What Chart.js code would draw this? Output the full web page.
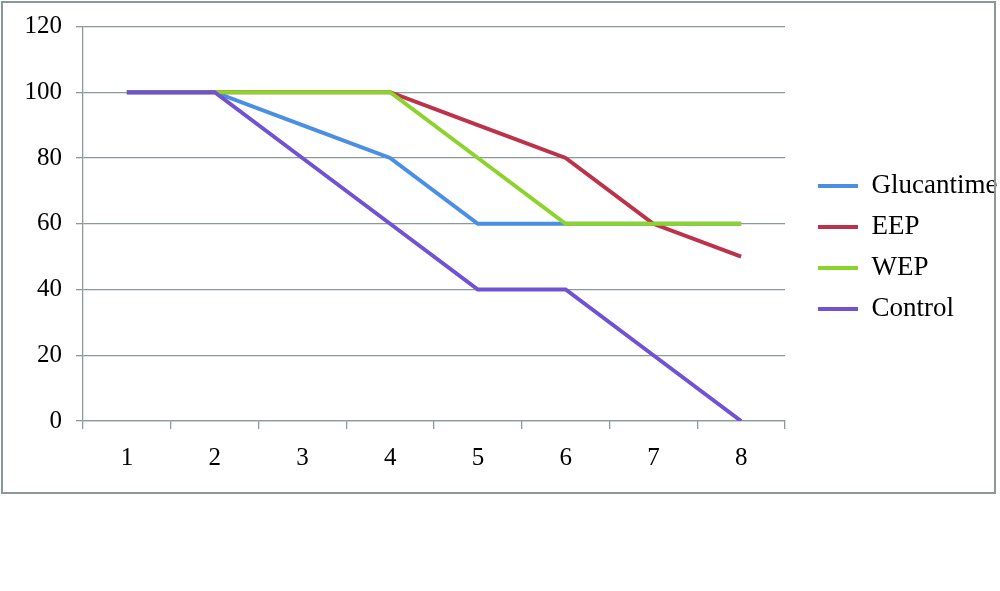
<!DOCTYPE html>
<html>
<head>
<meta charset="utf-8">
<script src="https://cdn.jsdelivr.net/npm/chart.js@4.4.0/dist/chart.umd.min.js"></script>
<style>
  html, body { margin: 0; padding: 0; background: #fff; }
  canvas { display: block; }
</style>
</head>
<body>
<canvas id="survivalChart" width="1000" height="591"></canvas>
<script>
const days = ["1", "2", "3", "4", "5", "6", "7", "8"];
const glucantime = [100, 100, 90, 80, 60, 60, 60, 60];
const eep = [100, 100, 100, 100, 90, 80, 60, 50];
const wep = [100, 100, 100, 100, 80, 60, 60, 60];
const control = [100, 100, 80, 60, 40, 40, 20, 0];

const gridColor = "#8c999b";
const fontFamily = "'Liberation Serif', 'Times New Roman', serif";

// outer frame around the whole chart, and nudge the legend into place
const framePlugin = {
  id: "frame",
  afterLayout(chart) {
    const lg = chart.legend;
    lg.left += 19; lg.right += 19;
    lg.top -= 6; lg.bottom -= 6;
  },
  afterDraw(chart) {
    const ctx = chart.ctx;
    ctx.save();
    ctx.strokeStyle = "#8a9898";
    ctx.lineWidth = 2;
    ctx.strokeRect(2, 2, 993, 491);
    ctx.restore();
  }
};

function line(label, data, color, order) {
  return {
    label: label,
    data: data,
    borderColor: color,
    backgroundColor: color,
    borderWidth: 4,
    pointRadius: 0,
    tension: 0,
    fill: false,
    order: order
  };
}

const ctx = document.getElementById("survivalChart").getContext("2d");
new Chart(ctx, {
  type: "line",
  data: {
    labels: days,
    datasets: [
      line("Glucantime", glucantime, "#4a8fe4", 4),
      line("EEP", eep, "#be3249", 3),
      line("WEP", wep, "#8cd42c", 2),
      line("Control", control, "#7152d4", 1)
    ]
  },
  options: {
    responsive: false,
    animation: false,
    layout: { padding: { left: 0, top: 26, right: 20, bottom: 110 } },
    plugins: {
      tooltip: { enabled: false },
      legend: {
        position: "right",
        maxWidth: 195,
        labels: {
          boxWidth: 40,
          boxHeight: 4,
          padding: 14,
          color: "#000",
          font: { family: fontFamily, size: 27 },
          generateLabels: chart => chart.data.datasets.map((ds, i) => ({
            text: ds.label,
            fillStyle: ds.borderColor,
            strokeStyle: ds.borderColor,
            lineWidth: 0,
            fontColor: "#000",
            hidden: false,
            datasetIndex: i
          }))
        }
      }
    },
    scales: {
      x: {
        offset: true,
        grid: { display: true, drawOnChartArea: false, offset: true, tickLength: 8, color: gridColor, lineWidth: 1.3 },
        border: { display: true, color: gridColor, width: 1.3 },
        ticks: { color: "#000", padding: 14, maxRotation: 0, font: { family: fontFamily, size: 25 } },
        afterFit(scale) { scale.height = 60; }
      },
      y: {
        min: 0,
        max: 120,
        ticks: { stepSize: 20, color: "#000", padding: 14, font: { family: fontFamily, size: 25, lineHeight: 1 } },
        grid: { color: gridColor, tickLength: 7, lineWidth: 1.3 },
        border: { display: true, color: gridColor, width: 1.3 },
        afterFit(scale) { scale.width = 83; }
      }
    }
  },
  plugins: [framePlugin]
});
</script>
</body>
</html>
